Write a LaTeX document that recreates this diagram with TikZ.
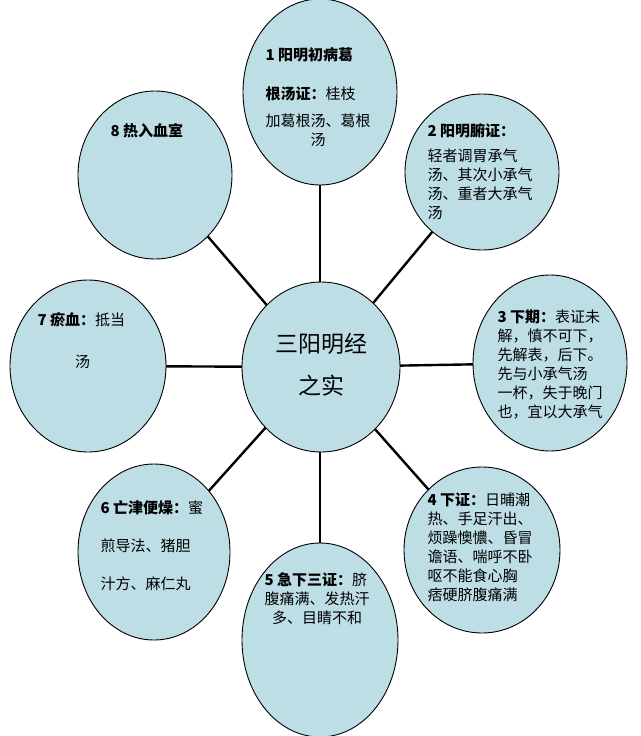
\documentclass[tikz,border=0pt]{standalone}
\usepackage{fontspec}
\usetikzlibrary{backgrounds}
\newfontfamily\cjk{Noto Sans CJK SC}
\definecolor{bub}{RGB}{190,222,230}
\begin{document}
\begin{tikzpicture}[x=1pt,y=-1pt,
  txt/.style={align=left,font=\cjk\fontsize{15}{19}\selectfont},
  link/.style={line width=2.4pt}]
\useasboundingbox (0,0) rectangle (640,736);
\fill[white] (0,0) rectangle (640,736);
\newcommand\bubble[5]{\draw[line width=0.9pt,fill=bub] (#2,#3) ellipse [x radius=#4,y radius=#5]; \coordinate (#1) at (#2,#3);}
\draw[link] (320,367) -- (320,92);
\draw[link] (320,367) -- (482,172);
\draw[link] (320,367) -- (550,363);
\draw[link] (320,367) -- (482,550);
\draw[link] (320,367) -- (320,640);
\draw[link] (320,367) -- (154,552);
\draw[link] (320,367) -- (88,366);
\draw[link] (320,367) -- (155,175);
\bubble{c}{321}{367}{79}{85}
\bubble{b1}{320}{92}{77}{93}
\bubble{b2}{482}{172}{77}{78}
\bubble{b3}{550}{363}{77}{88}
\bubble{b4}{482}{550}{78}{83}
\bubble{b5}{320}{640}{78}{97}
\bubble{b6}{154}{552}{76}{88}
\bubble{b7}{88}{366}{78}{86}
\bubble{b8}{155}{175}{77}{84}
\node[font=\cjk\fontsize{23}{42}\selectfont,align=center] (tc) at (321,365) {三阳明经\\之实};
\node[txt,anchor=north west] (t1) at (262,44) {\textbf{1 阳明初病葛}\\[20pt]\textbf{根汤证：}桂枝\\[8pt]加葛根汤、葛根\\\hspace*{3em}汤};
\node[txt,anchor=north west] (t2) at (424,120) {\textbf{2 阳明腑证：}\\[6pt]轻者调胃承气\\汤、其次小承气\\汤、重者大承气\\汤};
\node[txt,anchor=north west] (t3) at (494,306) {\textbf{3 下期：}表证未\\解，慎不可下，\\先解表，后下。\\先与小承气汤\\一杯，失于晚门\\也，宜以大承气};
\node[txt,anchor=north west] (t4) at (424,489) {\textbf{4 下证：}日晡潮\\热、手足汗出、\\烦躁懊憹、昏冒\\谵语、喘呼不卧\\呕不能食心胸\\痞硬脐腹痛满};
\node[txt,anchor=north west] (t5) at (261,569) {\textbf{5 急下三证：}脐\\腹痛满、发热汗\\\hspace*{0.5em}多、目睛不和};
\node[txt,font=\cjk\fontsize{15}{38}\selectfont,anchor=north west] (t6) at (97,497) {\textbf{6 亡津便燥：}蜜\\煎导法、猪胆\\汁方、麻仁丸};
\node[txt,font=\cjk\fontsize{15}{42}\selectfont,anchor=north west] (t7) at (34,309) {\textbf{7 瘀血：}抵当\\\hspace*{2.5em}汤};
\node[txt,anchor=north west] (t8) at (107,120) {\textbf{8 热入血室}};
\end{tikzpicture}
\end{document}
